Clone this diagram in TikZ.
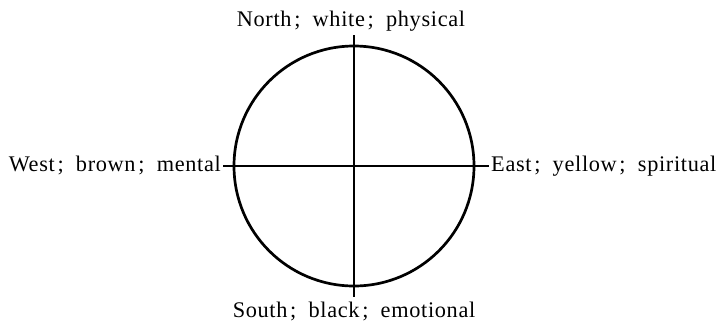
\documentclass[tikz,border=0pt]{standalone}
\usepackage{fontspec}
\setmainfont[LetterSpace=3]{Liberation Serif}
\newcommand{\sep}{\kern0.12em;\hspace{0.55em}}
\begin{document}
\begin{tikzpicture}[x=1pt,y=-1pt,
  lbl/.style={inner sep=0pt,font=\fontsize{22.3}{26}\selectfont},
  ln/.style={line width=2.7pt,black}]
\useasboundingbox (0,0) rectangle (720,327);
\coordinate (c) at (354,166);
\draw[ln] (c) circle (120);
\coordinate (n) at (354,35);
\coordinate (s) at (354,297);
\coordinate (w) at (223,166);
\coordinate (e) at (489,166);
\draw[ln] (n) -- (s);
\draw[ln] (w) -- (e);
\node[lbl,anchor=base] (nl) at (351,26) {North\sep white\sep physical};
\node[lbl,anchor=base] (sl) at (354,317) {South\sep black\sep emotional};
\node[lbl,anchor=base east] (wl) at (221,171) {West\sep brown\sep mental};
\node[lbl,anchor=base west] (el) at (491,171) {East\sep yellow\sep spiritual};
\end{tikzpicture}
\end{document}
